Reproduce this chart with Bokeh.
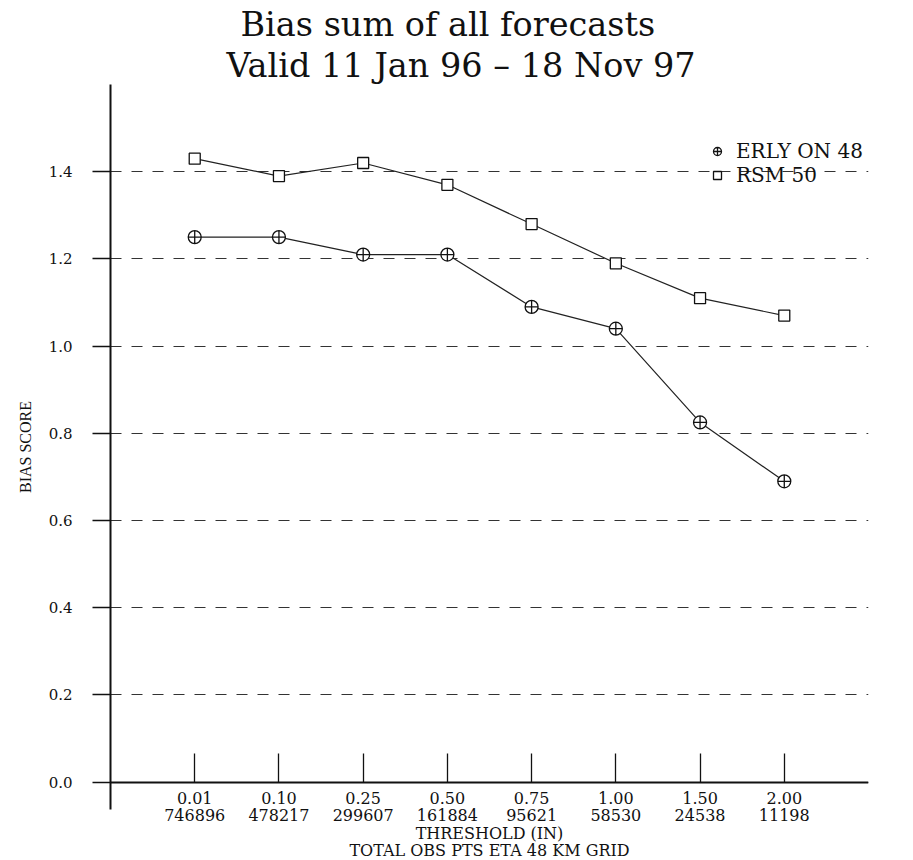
from bokeh.plotting import figure
from bokeh.models import (LinearAxis, FixedTicker, Grid, Range1d, Legend, Title,
                          LegendItem, PrintfTickFormatter, ColumnDataSource)
from bokeh.embed import file_html
from bokeh.resources import INLINE

# ---- data ----
thresholds = ["0.01", "0.10", "0.25", "0.50", "0.75", "1.00", "1.50", "2.00"]
obs_pts = ["746896", "478217", "299607", "161884", "95621", "58530", "24538", "11198"]
erly_on_48 = [1.25, 1.25, 1.21, 1.21, 1.09, 1.04, 0.825, 0.69]
rsm_50 = [1.43, 1.39, 1.42, 1.37, 1.28, 1.19, 1.11, 1.07]
y_ticks = [0.0, 0.2, 0.4, 0.6, 0.8, 1.0, 1.2, 1.4]
title_1 = "Bias sum of all forecasts"
title_2 = "Valid 11 Jan 96 \u2013 18 Nov 97"
x_label_1 = "THRESHOLD (IN)"
x_label_2 = "TOTAL OBS PTS ETA 48 KM GRID"
y_label = "BIAS SCORE"

xs = list(range(len(thresholds)))
src = ColumnDataSource(dict(x=xs, erly=erly_on_48, rsm=rsm_50))

SERIF = "DejaVu Serif"
INK = "#111111"

p = figure(frame_width=758, frame_height=725,
           min_border_left=110, min_border_top=84, min_border_right=30, min_border_bottom=10,
           x_range=Range1d(-1, 8), y_range=Range1d(-0.0626, 1.600),
           x_axis_type=None, y_axis_type=None,
           output_backend="svg", toolbar_location=None,
           background_fill_color="white", border_fill_color="white")
p.outline_line_color = None

# ---- y axis ----
yaxis = LinearAxis(ticker=FixedTicker(ticks=y_ticks),
                   formatter=PrintfTickFormatter(format="%.1f"))
yaxis.axis_line_width = 2
yaxis.axis_line_color = INK
yaxis.major_tick_in = 0
yaxis.major_tick_out = 18
yaxis.major_tick_line_width = 1.5
yaxis.major_tick_line_color = INK
yaxis.minor_tick_line_color = None
yaxis.major_label_standoff = 20
yaxis.major_label_text_font = SERIF
yaxis.major_label_text_font_size = "15px"
yaxis.major_label_text_color = INK
yaxis.axis_label = y_label
yaxis.axis_label_text_font = "Liberation Serif"
yaxis.axis_label_text_font_size = "16px"
yaxis.axis_label_text_font_style = "normal"
yaxis.axis_label_text_color = INK
yaxis.axis_label_standoff = 12
p.add_layout(yaxis, "left")


def text_axis(ticks, **kw):
    ax = LinearAxis(ticker=FixedTicker(ticks=ticks), **kw)
    ax.minor_tick_line_color = None
    ax.major_label_text_font = SERIF
    ax.major_label_text_font_size = "16px"
    ax.major_label_text_color = INK
    ax.axis_label_text_font = SERIF
    ax.axis_label_text_font_size = "16px"
    ax.axis_label_text_font_style = "normal"
    ax.axis_label_text_color = INK
    return ax


# x axis with thresholds, drawn on the y = 0 line
xaxis = text_axis(xs, fixed_location=0)
xaxis.major_label_overrides = {i: t for i, t in enumerate(thresholds)}
xaxis.axis_line_width = 2
xaxis.axis_line_color = INK
xaxis.major_tick_in = 29
xaxis.major_tick_out = 0
xaxis.major_tick_line_width = 1.3
xaxis.major_tick_line_color = INK
xaxis.major_label_standoff = 10
p.add_layout(xaxis, "below")

# second row of tick labels (obs counts) + first axis title line, below the frame
xaxis_n = text_axis(xs)
xaxis_n.major_label_overrides = {i: n for i, n in enumerate(obs_pts)}
xaxis_n.axis_line_color = None
xaxis_n.major_tick_line_color = None
xaxis_n.major_tick_in = 0
xaxis_n.major_tick_out = 0
xaxis_n.major_label_standoff = -1
xaxis_n.axis_label = x_label_1
xaxis_n.axis_label_standoff = 0
p.add_layout(xaxis_n, "below")

# second axis title line
xaxis_t = text_axis([])
xaxis_t.axis_line_color = None
xaxis_t.major_tick_line_color = None
xaxis_t.major_tick_in = 0
xaxis_t.major_tick_out = 0
xaxis_t.major_label_standoff = 0
xaxis_t.axis_label = x_label_2
xaxis_t.axis_label_standoff = -5
p.add_layout(xaxis_t, "below")

# ---- dashed horizontal grid ----
grid = Grid(dimension=1, ticker=yaxis.ticker)
grid.grid_line_color = "#333333"
grid.grid_line_width = 1.1
grid.grid_line_dash = "11 10"
p.add_layout(grid)

# ---- series ----
p.line("x", "rsm", source=src, line_color="#222222", line_width=1.2)
p.line("x", "erly", source=src, line_color="#222222", line_width=1.2)
r_rsm = p.scatter("x", "rsm", source=src, marker="square", size=11,
                  fill_color="white", line_color=INK, line_width=1.3)
r_erly = p.scatter("x", "erly", source=src, marker="circle_cross", size=13,
                   fill_color="white", line_color=INK, line_width=1.3)

legend = Legend(items=[LegendItem(label="ERLY ON 48", renderers=[r_erly]),
                       LegendItem(label="RSM 50", renderers=[r_rsm])],
                location=(597, 622))
legend.background_fill_alpha = 0
legend.border_line_color = None
legend.padding = 0
legend.margin = 0
legend.spacing = 0
legend.glyph_width = 20
legend.glyph_height = 20
legend.label_height = 20
legend.label_standoff = 9
legend.label_text_font = SERIF
legend.label_text_font_size = "20px"
legend.label_text_color = INK
p.add_layout(legend)

# ---- two-line title (subtitle added first: it sits nearest the frame) ----
p.add_layout(Title(text=title_2, align="left", offset=116, standoff=0,
                   text_font=SERIF, text_font_size="33.5px", text_font_style="normal",
                   text_color=INK), "above")
p.add_layout(Title(text=title_1, align="left", offset=130, standoff=0,
                   text_font=SERIF, text_font_size="33.5px", text_font_style="normal",
                   text_color=INK), "above")

open("out.html", "w").write(file_html(p, INLINE))
